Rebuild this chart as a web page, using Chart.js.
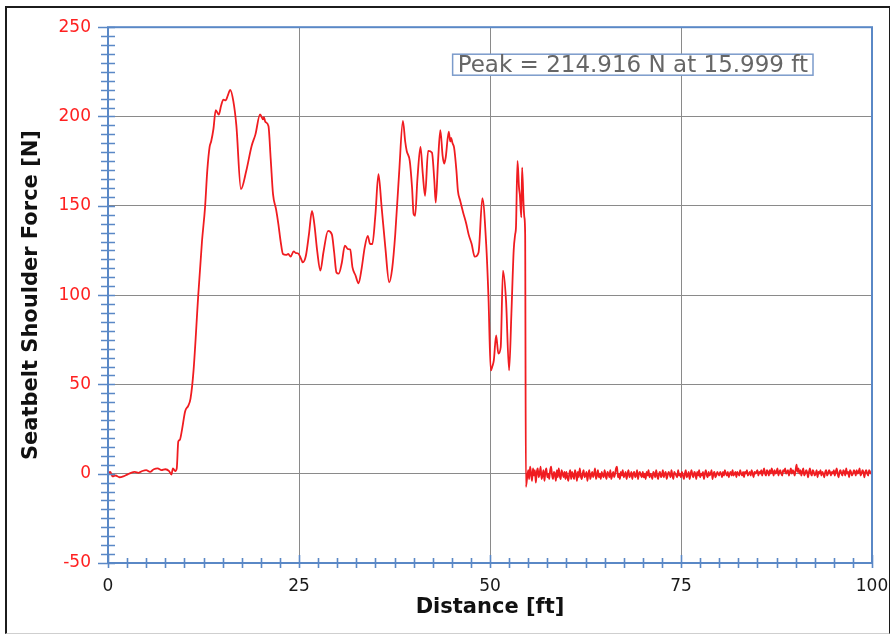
<!DOCTYPE html>
<html>
<head>
<meta charset="utf-8">
<script src="https://cdn.jsdelivr.net/npm/chart.js@4.4.1/dist/chart.umd.min.js"></script>
<style>
    html, body { margin: 0; padding: 0; background: #fff; }
    #wrap { position: relative; width: 893px; height: 634px; }
    #frame {
        position: absolute; left: 5px; top: 6px; width: 882px; height: 625px;
        border-left: 2px solid #1c1c1c; border-top: 2px solid #1c1c1c;
        border-right: 1px solid #1c1c1c; border-bottom: 1px solid #cfcfcf;
        pointer-events: none;
    }
    canvas { position: absolute; left: 0; top: 0; }
</style>
</head>
<body>
<div id="wrap">
    <canvas id="forceChart" width="893" height="634"></canvas>
    <div id="frame"></div>
</div>
<script>
// Seatbelt shoulder force vs. distance travelled
const distance = [
    0, 0.3, 0.6, 1.0, 1.5, 2.0, 2.5, 3.0, 3.5, 4.0,
    4.5, 5.0, 5.5, 6.0, 6.5, 7.0, 7.5, 8.0, 8.3, 8.5,
    8.8, 9.0, 9.2, 9.4, 9.7, 10.1, 10.5, 10.8, 11.2, 11.8,
    12.3, 12.7, 13.0, 13.3, 13.5, 13.8, 14.1, 14.5, 14.8, 15.1,
    15.4, 15.7, 15.999, 16.4, 16.8, 17.4, 18.1, 18.8, 19.3, 19.9,
    20.3, 20.4, 20.6, 21.0, 21.3, 21.6, 22.0, 22.3, 22.6, 22.9,
    23.3, 23.6, 23.9, 24.3, 24.6, 24.9, 25.2, 25.5, 25.9, 26.3,
    26.7, 27.0, 27.4, 27.8, 28.2, 28.8, 29.3, 29.6, 29.9, 30.2,
    30.6, 31.0, 31.4, 31.7, 32.0, 32.4, 32.8, 33.2, 33.6, 34.0,
    34.3, 34.6, 35.0, 35.4, 35.8, 36.3, 36.8, 37.2, 37.6, 38.1,
    38.6, 38.9, 39.1, 39.5, 39.8, 40.0, 40.2, 40.5, 40.9, 41.2,
    41.5, 41.9, 42.4, 42.7, 42.9, 43.2, 43.5, 43.8, 44.0, 44.2,
    44.6, 44.8, 44.9, 45.1, 45.3, 45.6, 45.8, 46.1, 46.5, 46.9,
    47.2, 47.6, 48.0, 48.5, 49.0, 49.5, 49.8, 50.1, 50.3, 50.5,
    50.8, 51.1, 51.4, 51.7, 52.1, 52.5, 52.8, 53.1, 53.3, 53.4,
    53.6, 53.8, 53.9, 54.1, 54.2, 54.4, 54.5, 54.6, 54.7
];
const force = [
    0, 1, -1.5, -1, -2, -1.5, -0.5, 0.5, 1, 0.5,
    1.5, 2, 1, 2.5, 3, 2, 2.5, 1.5, -0.5, 3,
    1.5, 3, 18, 19, 25, 35, 38, 42, 58, 99,
    130, 149, 170, 183, 186, 193, 203.5, 201, 206, 209.5,
    209, 212, 214.916, 208.7, 195, 159.3, 169.6, 183.5, 190, 201.2,
    198.4, 199.7, 197, 194.7, 176, 156.5, 148, 139.8, 130, 123,
    122.5, 123, 121.5, 124.5, 123.5, 123.3, 121, 118.3, 122, 134,
    147.2, 140, 124, 113.7, 124, 136, 134, 124, 112.7, 112,
    118, 127.7, 125.8, 125.5, 115.5, 111, 106.6, 115, 126.7, 133.2,
    128.6, 128.6, 145, 167.7, 150, 126.7, 107.2, 115, 134.2, 168,
    197.5, 186, 180.7, 175, 160, 145.4, 144.4, 165, 183, 168,
    155.6, 180.7, 179.8, 165, 151.8, 175, 192.3, 178, 173.6, 177,
    191.5, 186, 188, 185, 182.6, 170, 158.4, 152.8, 146, 139.8,
    134, 128.6, 121.5, 123.9, 154.3, 128.6, 98.8, 57.8, 60, 63.4,
    77.4, 67.2, 70.8, 113.7, 96.9, 57.8, 89.5, 125, 134.2, 137.9,
    175.1, 160, 156.5, 143.5, 171.4, 150, 143.5, 134.2, -7.4
];

// after the belt unloads: sensor noise sampled every 0.125 ft from 55 ft
const tailStart = 55;
const tailStep = 0.125;
const tailForce = [
    2, -3, 4, 0, -4, 3, -1, 2, -5, 1,
    3, -2, 0, 4, -3, -1, 2, -4, 1, 3,
    -2, 0, -3, 2, 4, -1, -3, 1, 0, -4,
    2, -2, 3, -1, -3, 2, 0, -2, 1, -3,
    1, -2, -4, 0, 2, -3, 1, -1, -3, 2,
    0, -4, 1, -2, 3, -1, -3, 0, 2, -2,
    -1, 1, -4, 0, 2, -3, -1, 1, -2, 0,
    3, -3, -1, 2, -2, 0, -3, 1, -1, -2,
    2, -1, -3, 1, 0, -2, 2, -3, -1, 1,
    -2, 0, 3, 4, -2, 0, -3, 1, -1, 2,
    -2, -1, 1, -3, 0, 2, -2, -1, 1, -3,
    0, 1, -2, -1, 2, -3, 0, 1, -1, -2,
    1, -2, 0, -3, 1, -1, 2, -2, 0, -1,
    -3, 1, 0, -2, 2, -1, -3, 0, 1, -2,
    -1, 2, -2, 0, 1, -3, -1, 1, 0, -2,
    2, -1, -3, 1, 0, -1, -2, 2, -1, 0,
    -2, 1, -1, -3, 0, 2, -2, -1, 1, -3,
    0, 2, -1, -2, 1, 0, -3, 1, -1, 2,
    -2, 0, -1, 1, -3, 0, 2, -1, -2, 1,
    -1, 0, 2, -3, 0, 1, -2, -1, 1, 0,
    -1, 1, 0, -2, 1, -1, 2, 0, -1, 1,
    -2, 0, 1, -1, 2, -1, 0, 1, -2, 1,
    0, -1, 2, 0, -1, 1, -2, 1, 0, 2,
    -1, 0, 1, -1, 2, 0, -2, 1, 0, 1,
    2, -1, 1, 0, 2, -1, 1, 3, 0, -1,
    2, 1, -1, 2, 0, 3, 1, -1, 2, 0,
    1, 3, -1, 1, 2, 0, -1, 2, 1, 3,
    0, 1, 2, -1, 1, 3, 0, 2, 1, -1,
    2, 5, 1, 3, 0, 2, -1, 1, 3, -1,
    0, 2, 1, -2, 1, 3, 0, -1, 2, 1,
    -1, 0, 2, -2, 1, 0, 2, -1, 1, 0,
    -2, 1, 2, -1, 0, 2, 1, -1, 1, 0,
    2, -1, 1, 3, 0, -2, 1, 2, 0, -1,
    2, 1, -1, 3, 0, 1, -2, 2, 1, -1,
    0, 2, 1, -1, 2, 0, 1, 3, -1, 0,
    2, 1, -2, 1, 2, 0, -1, 2, 1, 0,
    1
];

const xTicks = [0, 25, 50, 75, 100];
const yTicks = [-50, 0, 50, 100, 150, 200, 250];
const xMinorStep = 2.5;
const yMinorStep = 5;

const axisBlue = '#5a88c6';
const fontFamily = '"DejaVu Sans", "Liberation Sans", sans-serif';

document.addEventListener("DOMContentLoaded", () => {
    const points = distance.map((d, i) => ({ x: d, y: force[i] }))
        .concat(tailForce.map((f, i) => ({ x: tailStart + i * tailStep, y: f })));

    const peakIdx = force.indexOf(Math.max(...force));
    const peakText = `Peak = ${force[peakIdx].toFixed(3)} N at ${distance[peakIdx].toFixed(3)} ft`;

    // Blue frame axes with ticks crossing the line, plus the peak readout box
    const axesPlugin = {
        id: 'crossTicks',
        afterDraw(chart) {
            const { ctx, chartArea: a, scales: { x, y } } = chart;
            ctx.save();
            ctx.strokeStyle = axisBlue;
            ctx.lineWidth = 2;
            ctx.strokeRect(a.left, a.top, a.right - a.left, a.bottom - a.top);

            ctx.lineWidth = 1.6;
            ctx.beginPath();
            for (let v = xTicks[0]; v <= xTicks[xTicks.length - 1]; v += xMinorStep) {
                const px = Math.round(x.getPixelForValue(v)) + 0.5;
                const up = xTicks.includes(v) ? 8 : 5;
                ctx.moveTo(px, a.bottom - up);
                ctx.lineTo(px, a.bottom + 5);
            }
            for (let v = yTicks[0]; v <= yTicks[yTicks.length - 1]; v += yMinorStep) {
                const py = Math.round(y.getPixelForValue(v)) + 0.5;
                const left = yTicks.includes(v) ? 10 : 7;
                ctx.moveTo(a.left - left, py);
                ctx.lineTo(a.left + 7, py);
            }
            ctx.stroke();

            // peak label
            ctx.font = `23px ${fontFamily}`;
            const w = ctx.measureText(peakText).width;
            const boxRight = a.right - 59;
            const boxLeft = boxRight - w - 10;
            const boxTop = a.top + 27;
            ctx.fillStyle = '#ffffff';
            ctx.fillRect(boxLeft, boxTop, w + 10, 21);
            ctx.strokeStyle = '#7b9bcb';
            ctx.lineWidth = 1.5;
            ctx.strokeRect(boxLeft, boxTop, w + 10, 21);
            ctx.fillStyle = '#666666';
            ctx.textBaseline = 'alphabetic';
            ctx.fillText(peakText, boxLeft + 5, boxTop + 18);
            ctx.restore();
        }
    };

    const ctx = document.getElementById('forceChart').getContext('2d');
    new Chart(ctx, {
        type: 'line',
        data: {
            datasets: [{
                data: points,
                borderColor: 'rgb(240, 28, 32)',
                borderWidth: 1.8,
                pointRadius: 0,
                cubicInterpolationMode: 'monotone',
                fill: false
            }]
        },
        options: {
            responsive: false,
            animation: false,
            layout: { padding: { left: 0, top: 26, right: 21, bottom: 0 } },
            plugins: { legend: { display: false }, tooltip: { enabled: false } },
            scales: {
                x: {
                    type: 'linear',
                    min: 0,
                    max: 100,
                    afterBuildTicks: (s) => { s.ticks = xTicks.map(v => ({ value: v })); },
                    afterFit: (s) => {
                        s.height = 71;
                        s.paddingLeft = 0;
                        s.paddingRight = 0;
                    },
                    grid: { color: '#8a8a8a', lineWidth: 1, drawTicks: false },
                    border: { display: false },
                    ticks: { color: '#1a1a1a', padding: 13, font: { family: fontFamily, size: 17 } },
                    title: {
                        display: true,
                        text: 'Distance [ft]',
                        color: '#111',
                        padding: { top: 0, bottom: 14 },
                        font: { family: fontFamily, size: 21, weight: 'bold' }
                    }
                },
                y: {
                    min: -50,
                    max: 250,
                    afterBuildTicks: (s) => { s.ticks = yTicks.map(v => ({ value: v })); },
                    afterFit: (s) => { s.width = 108; },
                    grid: { color: '#8a8a8a', lineWidth: 1, drawTicks: false },
                    border: { display: false },
                    ticks: { color: '#ff2020', padding: 17, font: { family: fontFamily, size: 17 } },
                    title: {
                        display: true,
                        text: 'Seatbelt Shoulder Force [N]',
                        color: '#111',
                        padding: { top: 19, bottom: 0 },
                        font: { family: fontFamily, size: 21, weight: 'bold' }
                    }
                }
            }
        },
        plugins: [axesPlugin]
    });
});
</script>
</body>
</html>
